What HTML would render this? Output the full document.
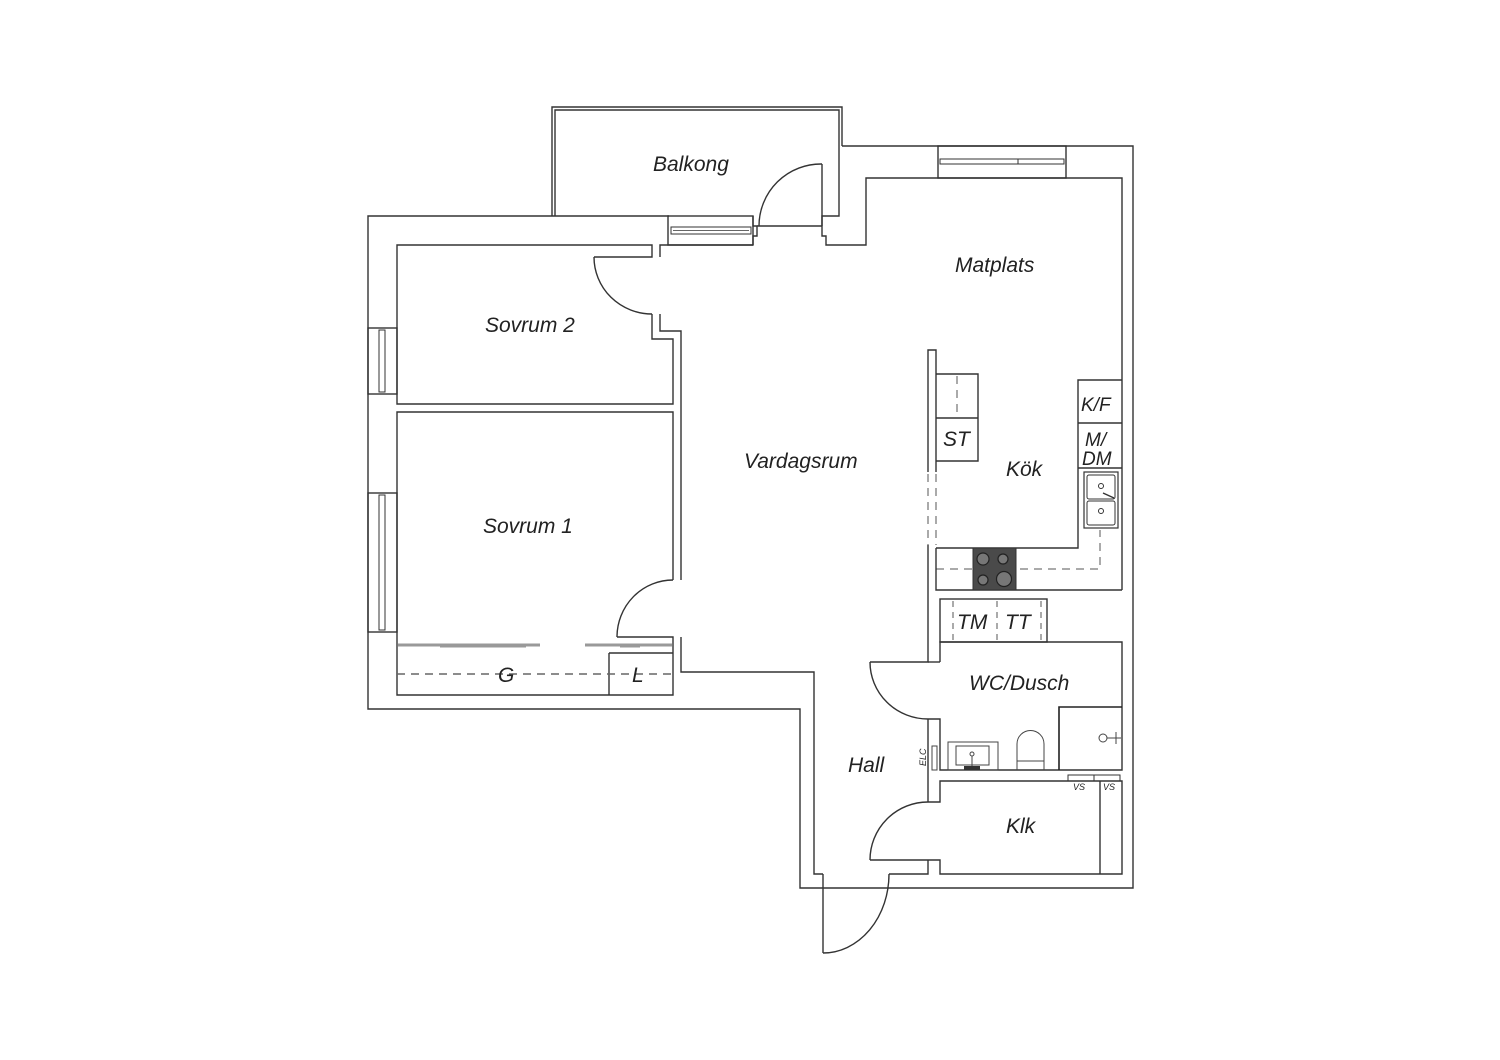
<!DOCTYPE html>
<html><head><meta charset="utf-8"><style>
html,body{margin:0;padding:0;background:#fff;}
svg{display:block;}
text{font-family:"Liberation Sans",sans-serif;font-style:italic;fill:#222;}
</style></head><body>
<svg width="1500" height="1060" viewBox="0 0 1500 1060" xmlns="http://www.w3.org/2000/svg">
<g fill="none" stroke="#333" stroke-width="1.4">
<!-- Balcony -->
<polyline points="552,216 552,107 842,107 842,146"/>
<polyline points="555,216 555,110 839,110 839,216 822,216 822,236 826,236 826,245 866,245 866,178 1122,178 1122,590"/>
<!-- outer -->
<polyline points="669,216 368,216 368,709 800,709 800,888 1133,888 1133,146 842,146"/>
<!-- top window matplats -->
<rect x="938" y="146" width="128" height="32"/>
<rect x="940" y="159" width="124" height="5" stroke-width="1"/>
<line x1="1018" y1="159" x2="1018" y2="164" stroke-width="1"/>
<!-- balcony window -->
<rect x="668" y="216" width="85" height="29"/>
<rect x="671" y="227" width="80" height="7" stroke-width="1"/>
<line x1="673" y1="230.5" x2="749" y2="230.5" stroke-width="0.8"/>
<!-- balcony door -->
<polyline points="753,216 753,226 757,226 757,236 753,236 753,245"/>
<line x1="757" y1="226" x2="822" y2="226"/>
<line x1="822" y1="164" x2="822" y2="226"/>
<path d="M822,164 A62,62 0 0 0 759,226"/>
<!-- inner line top-left -->
<polyline points="753,245 660,245 660,257"/>
<!-- Sovrum 2 -->
<polyline points="594,257 652,257 652,245 397,245 397,404 673,404 673,339 652,339 652,314"/>
<path d="M594,257 A58,57 0 0 0 652,314"/>
<polyline points="660,314 660,331 681,331 681,580"/>
<!-- Sovrum 1 -->
<polyline points="673,580 673,412 397,412 397,695 673,695 673,637 617,637"/>
<path d="M673,580 A56,57 0 0 0 617,637"/>
<polyline points="681,637 681,672 814,672 814,874 823,874"/>
<!-- left windows -->
<rect x="368" y="328" width="29" height="66"/>
<rect x="379" y="330" width="6" height="62" stroke-width="1"/>
<rect x="368" y="493" width="29" height="139"/>
<rect x="379" y="495" width="6" height="135" stroke-width="1"/>
<!-- wardrobe -->
<line x1="609" y1="653" x2="673" y2="653"/>
<line x1="609" y1="653" x2="609" y2="695"/>
<line x1="397" y1="674" x2="673" y2="674" stroke-dasharray="8,6" stroke="#666"/>
</g>
<g stroke="#999" stroke-width="3" fill="none">
<line x1="398" y1="645" x2="540" y2="645"/>
<line x1="440" y1="646" x2="526" y2="646"/>
<line x1="585" y1="645" x2="672" y2="645"/>
<line x1="620" y1="646" x2="640" y2="646"/>
</g>
<g fill="none" stroke="#333" stroke-width="1.4">
<!-- entrance door -->
<line x1="823" y1="874" x2="823" y2="953"/>
<path d="M823,953 A66,79 0 0 0 889,874"/>
<polyline points="889,874 928,874 928,860"/>
<!-- hall right walls -->
<polyline points="928,545 928,662 870,662"/>
<path d="M870,662 A58,57 0 0 0 928,719"/>
<polyline points="928,719 928,802"/>
<path d="M928,802 A58,58 0 0 0 870,860"/>
<line x1="870" y1="860" x2="928" y2="860"/>
<!-- bathroom -->
<polyline points="940,662 940,642 1122,642 1122,770 940,770 940,719 928,719"/>
<line x1="928" y1="662" x2="940" y2="662"/>
<!-- klk -->
<polyline points="928,802 940,802 940,781 1122,781 1122,874 940,874 940,860 928,860"/>
<line x1="1100" y1="781" x2="1100" y2="874"/>
<rect x="1068" y="775" width="26" height="6" stroke-width="1"/>
<rect x="1094" y="775" width="26" height="6" stroke-width="1"/>
<!-- TM/TT -->
<rect x="940" y="599" width="107" height="43"/>
<g stroke-dasharray="6,5" stroke="#555" stroke-width="1"><line x1="953" y1="601" x2="953" y2="640"/><line x1="997" y1="601" x2="997" y2="640"/><line x1="1041" y1="601" x2="1041" y2="640"/></g>
<!-- kitchen -->
<polyline points="928,472 928,350 936,350 936,472"/>
<g stroke-dasharray="8,6" stroke="#555" stroke-width="1"><line x1="928" y1="474" x2="928" y2="545"/><line x1="936" y1="474" x2="936" y2="545"/><polyline points="936,569 1100,569 1100,530"/><line x1="957" y1="376" x2="957" y2="418"/></g>
<polyline points="936,548 936,590 1122,590"/>
<polyline points="936,548 1078,548 1078,380 1122,380"/>
<line x1="1078" y1="423" x2="1122" y2="423"/>
<line x1="1078" y1="468" x2="1122" y2="468"/>
<polyline points="936,374 978,374 978,461 936,461"/>
<line x1="936" y1="418" x2="978" y2="418"/>
<!-- sink -->
<rect x="1084" y="472" width="34" height="56" stroke-width="1.2"/>
<rect x="1087" y="475" width="28" height="24" rx="2" stroke-width="1"/>
<rect x="1087" y="501" width="28" height="24" rx="2" stroke-width="1"/>
<circle cx="1101" cy="486" r="2.5" stroke-width="1"/>
<circle cx="1101" cy="511" r="2.5" stroke-width="1"/>
<line x1="1103" y1="493" x2="1114" y2="498"/>
</g>
<!-- stove -->
<rect x="973" y="548" width="43" height="42" fill="#4a4a4a" stroke="#333"/>
<g fill="#777" stroke="#222" stroke-width="1.2">
<circle cx="983" cy="559" r="6"/><circle cx="1003" cy="559" r="5"/><circle cx="983" cy="580" r="5"/><circle cx="1004" cy="579" r="7.5"/>
</g>
<!-- bathroom fixtures -->
<g fill="none" stroke="#444" stroke-width="1">
<rect x="948" y="742" width="50" height="28"/>
<rect x="956" y="746" width="33" height="19"/>
<line x1="972" y1="756" x2="972" y2="767"/><circle cx="972" cy="754" r="2"/>
<path d="M1017,770 L1017,744 A13.5,13.5 0 0 1 1044,744 L1044,770 M1017,761 L1044,761"/>
<polyline points="1059,770 1059,707 1122,707" stroke="#222" stroke-width="1.6"/>
<circle cx="1103" cy="738" r="4"/><line x1="1107" y1="738" x2="1121" y2="738"/><line x1="1116" y1="732" x2="1116" y2="744"/>
<rect x="932" y="746" width="5" height="24"/>
</g>
<rect x="964" y="766" width="16" height="4" fill="#333"/>
<!-- labels -->
<g font-size="21">
<text x="653" y="171">Balkong</text>
<text x="955" y="272">Matplats</text>
<text x="485" y="332">Sovrum 2</text>
<text x="744" y="468">Vardagsrum</text>
<text x="483" y="533">Sovrum 1</text>
<text x="1006" y="476">Kök</text>
<text x="943" y="446">ST</text>
<text x="969" y="690">WC/Dusch</text>
<text x="848" y="772">Hall</text>
<text x="1006" y="833">Klk</text>
<text x="957" y="629">TM</text>
<text x="1005" y="629">TT</text>
<text x="498" y="682">G</text>
<text x="632" y="682">L</text>
<text x="1081" y="411" font-size="19">K/F</text>
<text x="1085" y="446" font-size="19">M/</text>
<text x="1082" y="465" font-size="19">DM</text>
</g>
<text x="1073" y="790" font-size="9">VS</text>
<text x="1103" y="790" font-size="9">VS</text>
<text x="926" y="766" font-size="9" transform="rotate(-90 926 766)">ELC</text>
</svg>
</body></html>
